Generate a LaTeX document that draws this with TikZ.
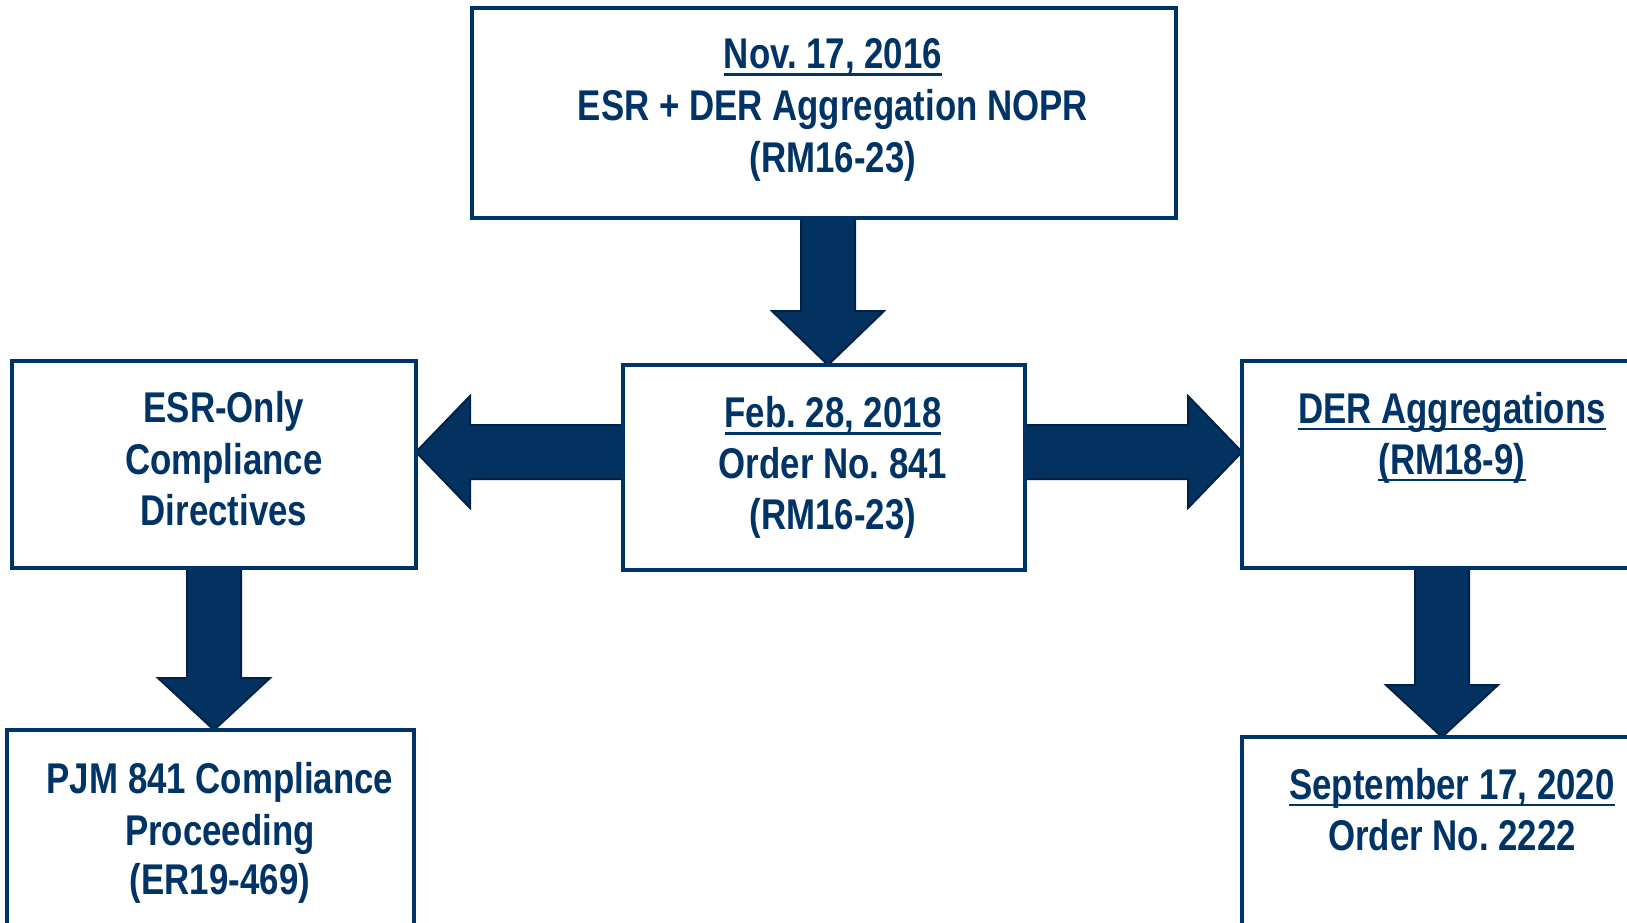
\documentclass[tikz,border=0pt]{standalone}
\usepackage{fontspec}
\setmainfont{Liberation Sans}[FakeStretch=0.81]
\usetikzlibrary{calc,backgrounds}
\definecolor{navy}{RGB}{0,51,102}
\definecolor{arrowfill}{RGB}{3,50,96}
\definecolor{arrowline}{RGB}{0,34,70}
\frenchspacing
\newcommand{\myul}[1]{\setbox0\hbox{#1}\rlap{\rule[-7pt]{\wd0}{2.5pt}}\box0}
\newcommand{\txtfont}{\fontsize{43}{51}\selectfont\bfseries\frenchspacing\spaceskip=9.7pt plus 2pt minus 1pt\relax}
\tikzset{
  box/.style={draw=navy, line width=4pt, fill=white, rectangle, inner sep=0pt, outer sep=0pt},
  txt/.style={anchor=base, text=navy, inner sep=0pt, font=\txtfont},
  fat/.style={fill=arrowfill, draw=arrowline, line width=2pt, line join=miter}
}
\begin{document}
\begin{tikzpicture}[x=1pt,y=-1pt]
\useasboundingbox (0,0) rectangle (1627,923);
\clip (0,0) rectangle (1627,923);
% boxes
\node[box, minimum width=704pt, minimum height=210pt] (top) at (824,113) {};
\node[box, minimum width=402pt, minimum height=205pt] (mid) at (824,467.5) {};
\node[box, minimum width=404pt, minimum height=207pt] (left) at (214,464.5) {};
\node[box, minimum width=418pt, minimum height=207pt] (right) at (1451,464.5) {};
\node[box, minimum width=407pt, minimum height=230pt] (pjm) at (210.5,845) {};
\node[box, minimum width=418pt, minimum height=223pt] (sept) at (1451,848.5) {};
% arrows
\begin{scope}[on background layer]
\draw[fat] let \p1=(top.south), \p2=(mid.north), \n1={\x1+4pt} in
  (\n1-27pt,\y1) -- (\n1-27pt,\y2+54pt) -- (\n1-56pt,\y2+54pt) -- (\n1,\y2)
  -- (\n1+56pt,\y2+54pt) -- (\n1+27pt,\y2+54pt) -- (\n1+27pt,\y1) -- cycle;
\draw[fat] let \p1=(left.south), \p2=(pjm.north), \n1={\x1} in
  (\n1-27pt,\y1) -- (\n1-27pt,\y2+52pt) -- (\n1-56pt,\y2+52pt) -- (\n1,\y2)
  -- (\n1+56pt,\y2+52pt) -- (\n1+27pt,\y2+52pt) -- (\n1+27pt,\y1) -- cycle;
\draw[fat] let \p1=(right.south), \p2=(sept.north), \n1={\x1-9pt} in
  (\n1-27pt,\y1) -- (\n1-27pt,\y2+52pt) -- (\n1-56pt,\y2+52pt) -- (\n1,\y2)
  -- (\n1+56pt,\y2+52pt) -- (\n1+27pt,\y2+52pt) -- (\n1+27pt,\y1) -- cycle;
\draw[fat] let \p1=(mid.west), \p2=(left.east), \n1={\y1+15.5pt} in
  (\x1,\n1+27pt) -- (\x2+54pt,\n1+27pt) -- (\x2+54pt,\n1+56pt) -- (\x2,\n1)
  -- (\x2+54pt,\n1-56pt) -- (\x2+54pt,\n1-27pt) -- (\x1,\n1-27pt) -- cycle;
\draw[fat] let \p1=(mid.east), \p2=(right.west), \n1={\y1+15.5pt} in
  (\x1,\n1+27pt) -- (\x2-54pt,\n1+27pt) -- (\x2-54pt,\n1+56pt) -- (\x2,\n1)
  -- (\x2-54pt,\n1-56pt) -- (\x2-54pt,\n1-27pt) -- (\x1,\n1-27pt) -- cycle;
\end{scope}
% texts
\node[txt] (top1) at (833,69) {\myul{Nov. 17, 2016}};
\node[txt] (top2) at (833,120.5) {ESR + DER Aggregation NOPR};
\node[txt] (top3) at (833,172) {(RM16-23)};
\node[txt] (mid1) at (833,427.5) {\myul{Feb. 28, 2018}};
\node[txt] (mid2) at (833,478) {Order No. 841};
\node[txt] (mid3) at (833,529) {(RM16-23)};
\node[txt] (left1) at (224,422) {ESR-Only};
\node[txt] (left2) at (224,474) {Compliance};
\node[txt] (left3) at (224,525) {Directives};
\node[txt] (right1) at (1452,423) {\myul{DER Aggregations}};
\node[txt] (right2) at (1452,474) {\myul{(RM18-9)}};
\node[txt] (pjm1) at (220,793) {PJM 841 Compliance};
\node[txt] (pjm2) at (220,845) {Proceeding};
\node[txt] (pjm3) at (220,894) {(ER19-469)};
\node[txt] (sept1) at (1452,799) {\myul{September 17, 2020}};
\node[txt] (sept2) at (1452,850) {Order No. 2222};
\end{tikzpicture}
\end{document}
